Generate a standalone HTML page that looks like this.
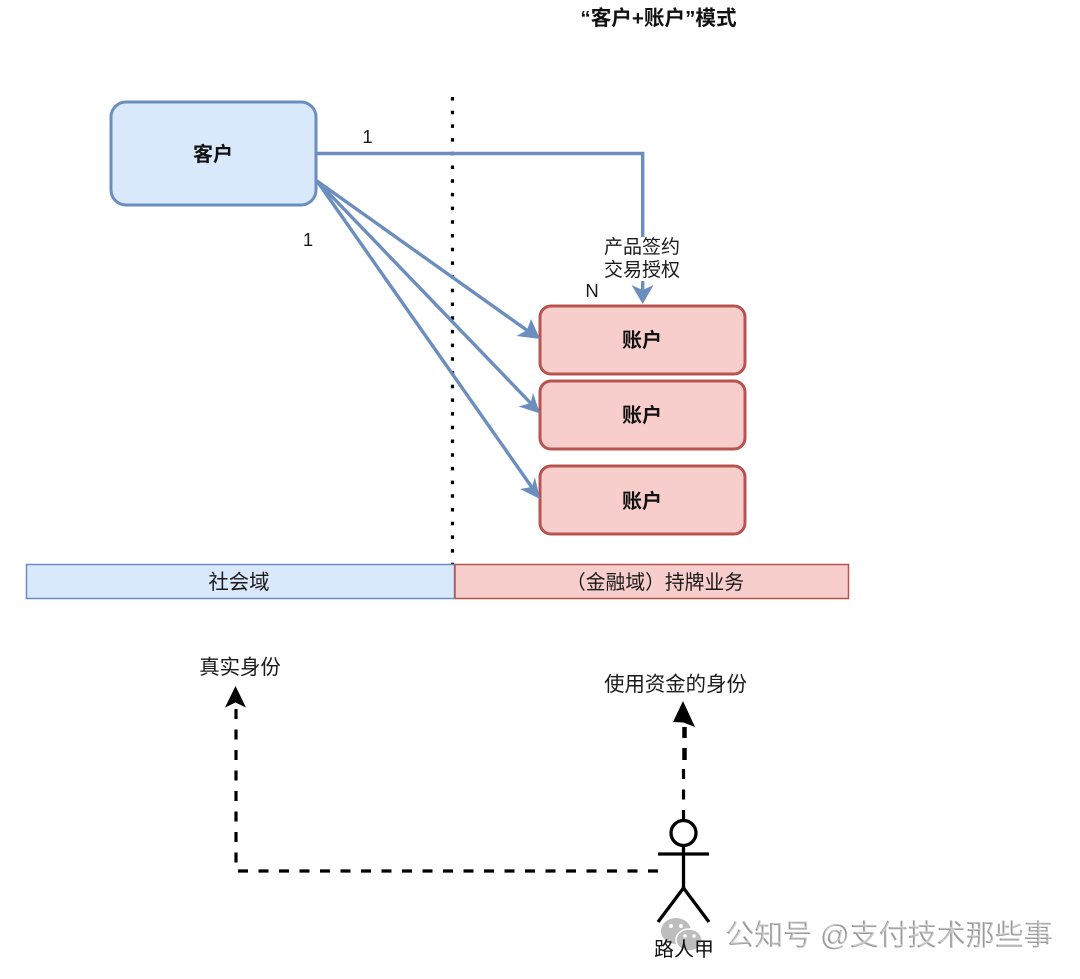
<!DOCTYPE html>
<html lang="zh">
<head>
<meta charset="utf-8">
<style>
html,body{margin:0;padding:0;background:#fff;}
svg{display:block;}
text{font-family:"Liberation Sans","Noto Sans CJK SC",sans-serif;fill:#1a1a1a;text-anchor:middle;}
.b{font-weight:700;font-size:20px;fill:#111;}
.n{font-size:20.400px;}
.one{font-size:18.500px;}
</style>
</head>
<body>
<svg width="1080" height="979" viewBox="0 0 1080 979" xmlns="http://www.w3.org/2000/svg">
<rect width="1080" height="979" fill="#fff"/>
<text x="658.500" y="25" class="b" style="font-size:20.600px">“客户+账户”模式</text>

<!-- dotted divider -->
<line x1="452.500" y1="97" x2="452.500" y2="565" stroke="#000" stroke-width="3.200" stroke-dasharray="3.500 10.200"/>

<!-- boxes -->
<rect x="111" y="102" width="205" height="103" rx="15" fill="#dae8fc" stroke="#6c8ebf" stroke-width="3"/>
<text x="213" y="161" class="b">客户</text>
<rect x="540" y="306" width="205" height="68" rx="11" fill="#f8cecc" stroke="#b85450" stroke-width="3"/>
<text x="642" y="347" class="b">账户</text>
<rect x="540" y="381" width="205" height="68" rx="11" fill="#f8cecc" stroke="#b85450" stroke-width="3"/>
<text x="642" y="422" class="b">账户</text>
<rect x="540" y="466" width="205" height="68" rx="11" fill="#f8cecc" stroke="#b85450" stroke-width="3"/>
<text x="642" y="508" class="b">账户</text>

<!-- blue connectors -->
<g fill="none" stroke="#6c8ebf" stroke-width="3.400">
<path d="M316 153.500H642.700V237"/>
<path d="M642.700 281V294"/>
<path d="M317 181L528 331"/>
<path d="M317 181L531 403.500"/>
<path d="M317 181L532 487.500"/>
</g>
<g fill="#6c8ebf">
<path d="M642.700 304L631.500 285L642.700 290L653.500 285Z"/>
<path d="M540 339L516.500 336L527 330L531 319Z"/>
<path d="M540 413.500L518.500 406.500L530.700 403L533 393Z"/>
<path d="M540 499L520 489L531.700 487L535 477.500Z"/>
</g>

<text x="367.500" y="143" class="one">1</text>
<text x="308" y="246" class="one">1</text>
<text x="592" y="297" class="one">N</text>
<text x="642" y="253" style="font-size:19px">产品签约</text>
<text x="642" y="276" style="font-size:19px">交易授权</text>

<!-- domain bars -->
<rect x="26.500" y="564.500" width="428" height="34" fill="#dae8fc" stroke="#6c8ebf" stroke-width="1.500"/>
<rect x="455" y="564.500" width="393.500" height="34" fill="#f8cecc" stroke="#b85450" stroke-width="1.500"/>
<text x="239" y="589" class="n">社会域</text>
<text x="655" y="589" style="font-size:19.800px">（金融域）持牌业务</text>

<text x="240" y="674" class="n">真实身份</text>
<text x="675.500" y="691" class="n">使用资金的身份</text>

<!-- dashed black connectors -->
<g fill="none" stroke="#000" stroke-width="3.200">
<path d="M658 871H236V704" stroke-dasharray="10 10.500"/>
<path d="M683.500 820V786" stroke-dasharray="10 10.500"/>
<path d="M683.500 769V779"/>
<path d="M684.500 748V760" stroke-width="4.500"/>
<path d="M684.500 727V738" stroke-width="4.500"/>
</g>
<path d="M235.500 686L225 707.500L235.500 702.500L246 707.500Z" fill="#000"/>
<path d="M683 701L673 722L683.500 722.500L695 727Z" fill="#000"/>

<!-- actor -->
<g fill="none" stroke="#000" stroke-width="3.300">
<circle cx="683.500" cy="833" r="12.500" fill="#fff"/>
<path d="M683.500 845.500V888"/>
<path d="M658 854H709"/>
<path d="M658 922L683.500 888L709 922"/>
</g>

<!-- watermark logo -->
<g fill="#bdbdbd">
<ellipse cx="676" cy="931" rx="15" ry="13"/>
<ellipse cx="689" cy="940" rx="13" ry="11" stroke="#fff" stroke-width="1.500"/>
</g>
<g fill="#fff">
<circle cx="671" cy="926" r="2"/><circle cx="681" cy="926" r="2"/>
<circle cx="685" cy="936" r="1.800"/><circle cx="694" cy="936" r="1.800"/>
</g>

<text x="684" y="956" style="font-size:20px;fill:#111">路人甲</text>

<!-- watermark text -->
<text x="889.500" y="945" style="font-size:29px;fill:#fff;stroke:#fff;stroke-width:1.500;">公知号 @支付技术那些事</text>
<text x="889" y="945" style="font-size:29px;fill:#9a9a9a;">公知号 @支付技术那些事</text>
<text x="890.500" y="944" style="font-size:29px;fill:#fff;opacity:.45;">公知号 @支付技术那些事</text>
</svg>
</body>
</html>
